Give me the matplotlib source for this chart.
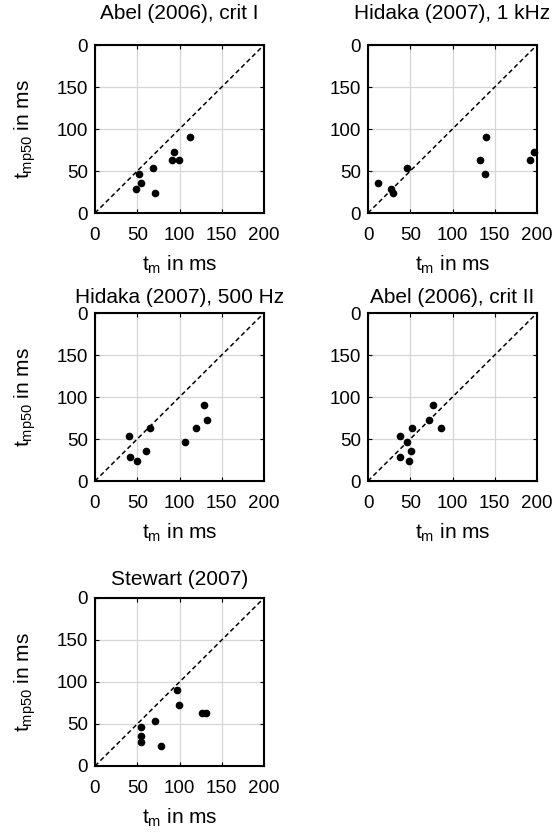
import matplotlib
matplotlib.use("Agg")
import matplotlib.pyplot as plt

plt.rcParams['font.family'] = ['Liberation Sans', 'DejaVu Sans']
plt.rcParams['mathtext.fontset'] = 'custom'
plt.rcParams['mathtext.rm'] = 'Liberation Sans'
plt.rcParams['mathtext.it'] = 'Liberation Sans'

titles = ["Abel (2006), crit I", "Hidaka (2007), 1 kHz", "Hidaka (2007), 500 Hz",
          "Abel (2006), crit II", "Stewart (2007)"]

abel1_tm = [113, 93, 91, 99, 69, 52, 54, 48, 71]
abel1_tmp = [91, 73, 63, 63, 54, 46, 36, 29, 24]

hid1k_tm = [12, 27, 30, 46, 140, 133, 139, 196, 192]
hid1k_tmp = [36, 29, 24, 54, 91, 63, 46, 73, 63]

hid500_tm = [40, 65, 42, 50, 60, 106, 129, 132, 120]
hid500_tmp = [54, 63, 29, 24, 36, 46, 91, 73, 63]

abel2_tm = [38, 52, 46, 51, 38, 49, 77, 72, 86]
abel2_tmp = [54, 63, 46, 36, 29, 24, 91, 73, 63]

stew_tm = [97, 99, 127, 131, 71, 54, 55, 54, 78]
stew_tmp = [91, 73, 63, 63, 54, 46, 36, 29, 24]

xs = [abel1_tm, hid1k_tm, hid500_tm, abel2_tm, stew_tm]
ys = [abel1_tmp, hid1k_tmp, hid500_tmp, abel2_tmp, stew_tmp]

ticks = [0, 50, 100, 150, 200]
xticklabels = ["0", "50", "100", "150", "200"]
yticklabels = ["0", "50", "100", "150", "0"]

W, H = 557, 834
fig = plt.figure(figsize=(W / 100, H / 100), dpi=100)

lefts = [95, 368]
tops = [45, 313, 598]
title_pads = [19, 7.5, 9.5]
aw, ah = 169, 168

for i in range(5):
    r, c = divmod(i, 2)
    l = lefts[c]
    t = tops[r]
    ax = fig.add_axes([l / W, 1 - (t + ah) / H, aw / W, ah / H])
    ax.plot([0, 200], [0, 200], color='black', linestyle=(0, (3, 2)), linewidth=1.1, zorder=2)
    ax.plot(xs[i], ys[i], 'o', color='black', markersize=4.5, zorder=3, clip_on=False)
    ax.set_xlim(0, 200)
    ax.set_ylim(0, 200)
    ax.set_xticks(ticks)
    ax.set_yticks(ticks)
    ax.set_xticklabels(xticklabels)
    ax.set_yticklabels(yticklabels)
    ax.grid(True, color='#d6d6d6', linewidth=0.9, linestyle='-')
    ax.set_axisbelow(True)
    ax.tick_params(direction='in', length=3, width=0.8, top=True, right=True,
                   labelsize=13.5, colors='black')
    ax.tick_params(axis='x', pad=10)
    ax.tick_params(axis='y', pad=5)
    for s in ax.spines.values():
        s.set_linewidth(1.5)
    ax.set_title(titles[i], fontsize=15, pad=title_pads[r])
    ax.set_xlabel(r'$\mathregular{t_m}$ in ms', fontsize=15, labelpad=7)
    if c == 0:
        ax.set_ylabel(r'$\mathregular{t_{mp50}}$ in ms', fontsize=15)
        ax.yaxis.set_label_coords(-0.34, 0.5)

fig.savefig("out.png", dpi=100, facecolor='white')
